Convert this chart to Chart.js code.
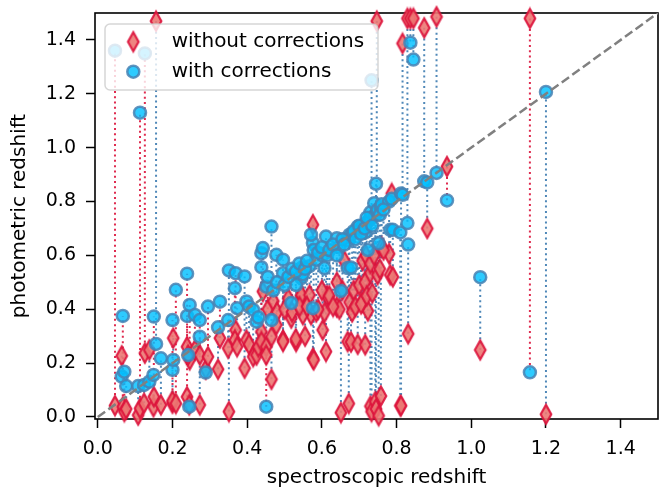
<!DOCTYPE html>
<html>
<head>
<meta charset="utf-8">
<script src="https://cdn.jsdelivr.net/npm/chart.js@4.4.1/dist/chart.umd.min.js"></script>
<style>
  html, body { margin: 0; padding: 0; background: #fff; }
</style>
</head>
<body>
<canvas id="zChart" width="659" height="490"></canvas>
<script>
// spectroscopic redshift of each galaxy
const specZ = [
  0.046, 0.064, 0.067, 0.071, 0.076, 0.108, 0.113, 0.126, 0.124, 0.138,
  0.149, 0.150, 0.156, 0.169, 0.200, 0.202, 0.200, 0.209, 0.239, 0.239,
  0.246, 0.245, 0.242, 0.260, 0.273, 0.273, 0.289, 0.295, 0.327, 0.322,
  0.349, 0.351, 0.369, 0.367, 0.373, 0.393, 0.398, 0.405, 0.416, 0.425,
  0.430, 0.438, 0.442, 0.438, 0.451, 0.465, 0.465, 0.478, 0.451, 0.496,
  0.496, 0.518, 0.545, 0.576, 0.576, 0.571, 0.531, 0.545, 0.549, 0.567,
  0.578, 0.585, 0.602, 0.607, 0.611, 0.614, 0.640, 0.647, 0.651, 0.669,
  0.672, 0.674, 0.678, 0.681, 0.696, 0.709, 0.709, 0.716, 0.718, 0.723,
  0.727, 0.730, 0.730, 0.733, 0.740, 0.743, 0.745, 0.747, 0.749, 0.752,
  0.758, 0.760, 0.780, 0.783, 0.787, 0.790, 0.810, 0.812, 0.816, 0.829,
  0.831, 0.837, 0.845, 0.874, 0.882, 0.907, 0.935, 1.024, 1.157, 1.200,
  0.455, 0.470, 0.480, 0.500, 0.510, 0.520, 0.530, 0.540, 0.555, 0.560,
  0.590, 0.600, 0.620, 0.630, 0.640, 0.655, 0.660, 0.685, 0.690, 0.700,
  0.705, 0.715, 0.720, 0.735, 0.755, 0.765
];
// photometric redshift without corrections
const photoZRaw = [
  0.042, 0.227, 0.038, 0.020, 0.030, 0.007, 0.032, 0.237, 0.051, 0.249,
  0.038, 0.075, 1.470, 0.045, 0.051, 0.293, 0.060, 0.050, 0.075, 0.261,
  0.212, 0.045, 0.230, 0.249, 0.230, 0.045, 0.177, 0.224, 0.293, 0.177,
  0.255, 0.020, 0.323, 0.286, 0.261, 0.181, 0.286, 0.270, 0.224, 0.230,
  0.260, 0.317, 0.466, 0.280, 0.261, 0.140, 0.298, 0.342, 0.230, 0.286,
  0.280, 0.367, 0.447, 0.218, 0.714, 0.380, 0.280, 0.453, 0.380, 0.453,
  0.212, 0.390, 0.323, 0.388, 0.243, 0.450, 0.408, 0.400, 0.016, 0.280,
  0.050, 0.426, 0.278, 0.390, 0.270, 0.426, 0.580, 0.268, 0.600, 0.394,
  0.528, 0.570, 0.040, 0.020, 0.600, 0.057, 0.030, 1.470, 0.528, 0.005,
  0.078, 0.630, 0.606, 0.528, 0.830, 0.520, 0.042, 0.042, 1.387, 1.480,
  0.309, 1.480, 1.480, 1.445, 0.700, 1.486, 0.930, 0.249, 1.480, 0.010,
  0.400, 0.430, 0.390, 0.400, 0.440, 0.390, 0.290, 0.410, 0.300, 0.410,
  0.400, 0.470, 0.450, 0.410, 0.500, 0.470, 0.580, 0.470, 0.410, 0.490,
  0.420, 0.500, 0.450, 0.460, 0.550, 0.620
];
// photometric redshift with corrections
const photoZCorr = [
  1.360, 0.150, 0.375, 0.168, 0.115, 0.115, 1.130, 1.350, 0.119, 0.131,
  0.156, 0.373, 0.271, 0.218, 0.175, 0.212, 0.360, 0.472, 0.532, 0.375,
  0.416, 0.038, 0.230, 0.379, 0.360, 0.298, 0.165, 0.410, 0.428, 0.333,
  0.360, 0.544, 0.534, 0.478, 0.404, 0.522, 0.429, 0.410, 0.398, 0.354,
  0.370, 0.608, 0.627, 0.556, 0.038, 0.707, 0.360, 0.602, 0.484, 0.584,
  0.534, 0.423, 0.516, 0.404, 0.646, 0.677, 0.490, 0.553, 0.530, 0.560,
  0.620, 0.584, 0.600, 0.553, 0.670, 0.600, 0.664, 0.630, 0.468, 0.553,
  0.655, 0.677, 0.555, 0.680, 0.707, 0.700, 0.710, 0.685, 0.720, 0.620,
  0.730, 0.740, 0.760, 1.250, 0.794, 0.750, 0.866, 0.760, 0.770, 0.645,
  0.780, 0.790, 0.800, 0.695, 0.810, 0.695, 0.685, 0.830, 0.825, 0.720,
  0.640, 1.390, 1.327, 0.875, 0.871, 0.906, 0.804, 0.519, 0.166, 1.207,
  0.520, 0.470, 0.500, 0.490, 0.520, 0.550, 0.540, 0.570, 0.550, 0.580,
  0.610, 0.630, 0.620, 0.640, 0.600, 0.660, 0.640, 0.690, 0.660, 0.710,
  0.680, 0.700, 0.740, 0.710, 0.750, 0.770
];
const tickValues = [0.0, 0.2, 0.4, 0.6, 0.8, 1.0, 1.2, 1.4];
const identityLine = [0, 1.5];
const axisMin = -0.0075;
const axisMax = 1.5;

const FONT = 'DejaVu Sans';
const circleFill = 'rgba(0, 191, 255, 0.82)';
const circleEdge = 'rgba(70, 130, 180, 0.85)';

// thin diamond marker (matplotlib "d")
function makeDiamond() {
    const c = document.createElement('canvas');
    c.width = 16; c.height = 24;
    const g = c.getContext('2d');
    g.beginPath();
    g.moveTo(8, 2.5);
    g.lineTo(13.3, 12);
    g.lineTo(8, 21.5);
    g.lineTo(2.7, 12);
    g.closePath();
    g.fillStyle = 'rgba(236, 120, 115, 0.9)';
    g.fill();
    g.lineWidth = 2.2;
    g.strokeStyle = 'rgba(220, 20, 60, 0.92)';
    g.stroke();
    return c;
}
const diamond = makeDiamond();

// dotted connectors: blue when the correction helps, red otherwise
const redSegs = [], blueSegs = [];
specZ.forEach(function(x, i) {
    const a = photoZRaw[i], b = photoZCorr[i];
    const target = Math.abs(b - x) < Math.abs(a - x) ? blueSegs : redSegs;
    target.push({x: x, y: a}, {x: x, y: b}, {x: x, y: null});
});

const framePlugin = {
    id: 'frame',
    beforeDatasetsDraw(chart) {
        const a = chart.chartArea, ctx = chart.ctx;
        ctx.save();
        ctx.strokeStyle = '#000';
        ctx.lineWidth = 1.6;
        ctx.strokeRect(a.left, a.top, a.right - a.left, a.bottom - a.top);
        ctx.restore();
    }
};

const legendBox = {
    id: 'legendBox',
    afterDatasetsDraw(chart) {
        const ctx = chart.ctx;
        ctx.save();
        ctx.beginPath();
        ctx.roundRect(105, 24, 273, 66, 5);
        ctx.fillStyle = 'rgba(255,255,255,0.8)';
        ctx.fill();
        ctx.strokeStyle = 'rgba(204,204,204,0.8)';
        ctx.lineWidth = 1.5;
        ctx.stroke();
        ctx.drawImage(diamond, 133.3 - diamond.width / 2, 41.7 - diamond.height / 2);
        ctx.beginPath();
        ctx.arc(133.3, 71.7, 6, 0, Math.PI * 2);
        ctx.fillStyle = circleFill;
        ctx.fill();
        ctx.lineWidth = 2.5;
        ctx.strokeStyle = circleEdge;
        ctx.stroke();
        ctx.fillStyle = '#000';
        ctx.font = '20px "' + FONT + '"';
        ctx.textBaseline = 'middle';
        ctx.fillText('without corrections', 171.7, 41.7);
        ctx.fillText('with corrections', 171.7, 71.7);
        ctx.restore();
    }
};

function axis(title, fit, titlePad) {
    return {
        type: 'linear',
        min: axisMin,
        max: axisMax,
        afterBuildTicks: function(s) { s.ticks = tickValues.map(function(v) { return {value: v}; }); },
        afterFit: fit,
        ticks: {
            callback: function(v) { return v.toFixed(1); },
            font: {family: FONT, size: 19},
            color: '#000',
            padding: 10,
            maxRotation: 0,
            autoSkip: false
        },
        grid: {
            display: true,
            drawOnChartArea: false,
            drawTicks: true,
            tickLength: 9,
            tickWidth: 1.5,
            tickColor: '#000'
        },
        border: {display: false},
        title: {
            display: true,
            text: title,
            font: {family: FONT, size: 20},
            color: '#000',
            padding: titlePad
        }
    };
}

new Chart(document.getElementById('zChart').getContext('2d'), {
    type: 'scatter',
    data: {
        datasets: [{
            data: identityLine.map(function(v) { return {x: v, y: v}; }),
            showLine: true,
            borderColor: '#808080',
            borderWidth: 2.5,
            borderDash: [9, 4],
            pointRadius: 0,
            order: 0
        }, {
            data: specZ.map(function(x, i) { return {x: x, y: photoZCorr[i]}; }),
            pointStyle: 'circle',
            pointRadius: 6,
            pointBorderWidth: 2.5,
            pointBackgroundColor: circleFill,
            pointBorderColor: circleEdge,
            clip: false,
            order: 1
        }, {
            data: specZ.map(function(x, i) { return {x: x, y: photoZRaw[i]}; }),
            pointStyle: diamond,
            pointRadius: 6,
            clip: false,
            order: 2
        }, {
            data: redSegs,
            showLine: true,
            spanGaps: false,
            borderColor: 'rgba(220, 20, 60, 0.9)',
            borderWidth: 2,
            borderDash: [2, 3.3],
            pointRadius: 0,
            order: 3
        }, {
            data: blueSegs,
            showLine: true,
            spanGaps: false,
            borderColor: 'rgba(70, 130, 180, 0.95)',
            borderWidth: 2,
            borderDash: [2, 3.3],
            pointRadius: 0,
            order: 3
        }]
    },
    options: {
        responsive: false,
        animation: false,
        events: [],
        layout: {autoPadding: false, padding: {top: 13, right: 1, bottom: 0, left: 0}},
        plugins: {
            legend: {display: false},
            tooltip: {enabled: false}
        },
        scales: {
            x: axis('spectroscopic redshift', function(s) {
                s.height = 71; s.paddingLeft = 0; s.paddingRight = 0;
            }, {top: 0, bottom: 0}),
            y: axis('photometric redshift', function(s) {
                s.width = 95; s.paddingTop = 0; s.paddingBottom = 0;
            }, {top: 8, bottom: 0})
        }
    },
    plugins: [framePlugin, legendBox]
});
</script>
</body>
</html>
